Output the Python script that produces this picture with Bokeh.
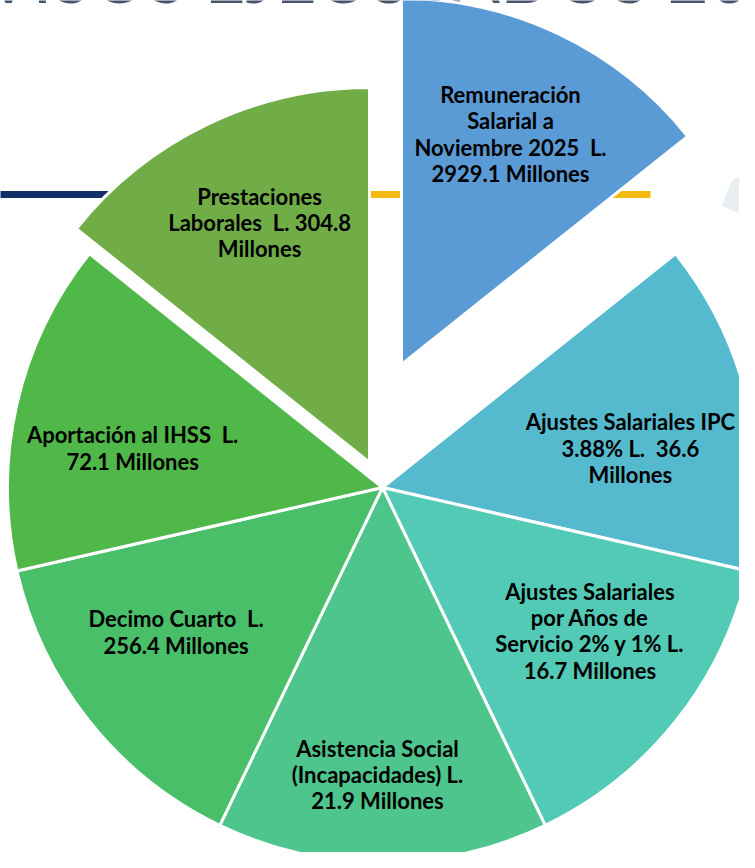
import math
from bokeh.plotting import figure
from bokeh.models import ColumnDataSource, Range1d
from bokeh.core.properties import value
from bokeh.embed import file_html
from bokeh.resources import INLINE

# ---------------- data ----------------
categories = [
    "Remuneración Salarial a Noviembre 2025",
    "Ajustes Salariales IPC 3.88%",
    "Ajustes Salariales por Años de Servicio 2% y 1%",
    "Asistencia Social (Incapacidades)",
    "Decimo Cuarto",
    "Aportación al IHSS",
    "Prestaciones Laborales",
]
values_millones = [2929.1, 36.6, 16.7, 21.9, 256.4, 72.1, 304.8]
# the slices in the picture are drawn with equal shares
shares = [1, 1, 1, 1, 1, 1, 1]
NB = "\u00a0"
label_lines = [
    ["Remuneración", "Salarial a", "Noviembre 2025 " + NB + "L.", "2929.1 Millones"],
    ["Ajustes Salariales IPC", "3.88% L. " + NB + "36.6", "Millones"],
    ["Ajustes Salariales", "por Años de", "Servicio 2% y 1% L.", "16.7 Millones"],
    ["Asistencia Social", "(Incapacidades) L.", "21.9 Millones"],
    ["Decimo Cuarto " + NB + "L.", "256.4 Millones"],
    ["Aportación al IHSS " + NB + "L.", "72.1 Millones"],
    ["Prestaciones", "Laborales " + NB + "L. 304.8", "Millones"],
]
title_text = "VISOS EJECUTADOS 20"

# ---------------- layout / style ----------------
colors = ["#5B9BD5", "#55BACE", "#52CAB5", "#4DC58C", "#4ABF69", "#50B749", "#70AD47"]
W, H = 755, 868           # reference page size (pixel space, y measured up)
CX, CY = 390, H - 495     # pie centre
R = [366, 375, 375, 375, 375, 375, 375]
explode_dx = [19, 0, 0, 0, 0, 0, -13]
explode_dy = [123, 0, 0, 0, 0, 0, 25]
label_ang = [25.3, 81.0, 124.6, 181.0, 235.0, 279.0, 335.4]   # degrees clockwise from 12 o'clock
label_r = [255, 251, 252, 287, 252, 253, 264]
line_gap = 26.3

p = figure(width=739, height=852, output_backend="svg", toolbar_location=None,
           x_range=Range1d(8, W - 8), y_range=Range1d(8, H - 8),
           min_border=0, outline_line_color=None, background_fill_color="white",
           border_fill_color="white")
p.axis.visible = False
p.grid.visible = False

# background decorations (slide template)
p.text(x=[-8], y=[H + 17], text=[title_text], text_font=value("Lato"), text_font_size="71px",
       text_color="#44546A", text_baseline="alphabetic", text_align="left")
p.segment(x0=[0], y0=[H - 202], x1=[378], y1=[H - 202], line_color="#12306A", line_width=7)
p.segment(x0=[378], y0=[H - 202], x1=[658], y1=[H - 202], line_color="#F2BA0C", line_width=7)
p.patch(x=[740, 760, 760, 729], y=[H - 187, H - 179, H - 227, H - 213], fill_color="#E9EEF0",
        line_color=None)

# slices
total = sum(shares)
cum = 0.0
wx, wy, wr, ws, we = [], [], [], [], []
lx, ly, lt = [], [], []
for i, s in enumerate(shares):
    a0 = 2 * math.pi * cum / total
    cum += s
    a1 = 2 * math.pi * cum / total
    ox = CX + explode_dx[i]
    oy = CY + explode_dy[i]
    wx.append(ox); wy.append(oy); wr.append(R[i])
    ws.append(math.pi / 2 - a1); we.append(math.pi / 2 - a0)
    ang = math.radians(label_ang[i])
    px = ox + label_r[i] * math.sin(ang)
    py = oy + label_r[i] * math.cos(ang)
    n = len(label_lines[i])
    for k, t in enumerate(label_lines[i]):
        lx.append(px)
        ly.append(py + ((n - 1) / 2 - k) * line_gap)
        lt.append(t)

src = ColumnDataSource(dict(x=wx, y=wy, r=wr, s=ws, e=we, c=colors, cat=categories,
                            v=values_millones))
p.wedge(x="x", y="y", radius="r", start_angle="s", end_angle="e", fill_color="c",
        line_color="white", line_width=3, source=src)

lsrc = ColumnDataSource(dict(x=lx, y=ly, t=lt))
p.text(x="x", y="y", text="t", source=lsrc, text_font=value("Lato"), text_font_size="22px",
       text_font_style="bold", text_color="black", text_align="center", text_baseline="middle")

open("out.html", "w").write(file_html(p, INLINE))
